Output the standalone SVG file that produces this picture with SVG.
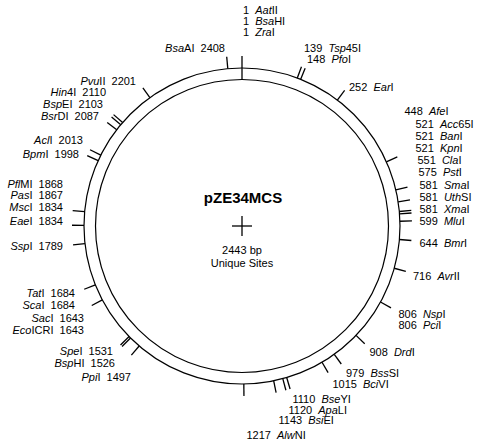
<svg xmlns="http://www.w3.org/2000/svg" width="478" height="444" viewBox="0 0 478 444">
<style>
.t{font-family:"Liberation Sans",Arial,Helvetica,sans-serif;font-size:11px;fill:#000}
.ttl{font-family:"Liberation Sans",Arial,Helvetica,sans-serif;font-size:15px;font-weight:bold;fill:#000;text-anchor:middle}
.i{font-style:italic}
.e{text-anchor:end}
.tk{stroke:#000;stroke-width:1.3;fill:none}
.ring{stroke:#000;stroke-width:1.2;fill:none}
</style>
<rect width="478" height="444" fill="#fff"/>
<g id="map">
<circle class="ring" cx="242" cy="226" r="158"/>
<circle class="ring" cx="242" cy="226" r="146.5"/>
<line class="tk" x1="232" y1="226" x2="252" y2="226"/>
<line class="tk" x1="242" y1="216" x2="242" y2="236"/>
</g>
<g id="connectors">
<line class="tk" x1="242" y1="79.5" x2="242" y2="56"/>
<g transform="translate(242 226)">
<line class="tk" x1="0" y1="-158" x2="0" y2="-170" transform="rotate(20.48)"/>
<line class="tk" x1="0" y1="-158" x2="0" y2="-170" transform="rotate(21.81)"/>
<line class="tk" x1="0" y1="-158" x2="0" y2="-170" transform="rotate(37.13)"/>
<line class="tk" x1="0" y1="-158" x2="0" y2="-170" transform="rotate(66.02)"/>
<line class="tk" x1="0" y1="-158" x2="0" y2="-170" transform="rotate(76.77)"/>
<line class="tk" x1="0" y1="-158" x2="0" y2="-170" transform="rotate(81.19)"/>
<line class="tk" x1="0" y1="-158" x2="0" y2="-170" transform="rotate(84.73)"/>
<line class="tk" x1="0" y1="-158" x2="0" y2="-170" transform="rotate(85.62)"/>
<line class="tk" x1="0" y1="-158" x2="0" y2="-170" transform="rotate(88.27)"/>
<line class="tk" x1="0" y1="-158" x2="0" y2="-170" transform="rotate(94.90)"/>
<line class="tk" x1="0" y1="-158" x2="0" y2="-170" transform="rotate(105.51)"/>
<line class="tk" x1="0" y1="-158" x2="0" y2="-170" transform="rotate(118.77)"/>
<line class="tk" x1="0" y1="-158" x2="0" y2="-170" transform="rotate(133.80)"/>
<line class="tk" x1="0" y1="-158" x2="0" y2="-170" transform="rotate(144.27)"/>
<line class="tk" x1="0" y1="-158" x2="0" y2="-170" transform="rotate(149.57)"/>
<line class="tk" x1="0" y1="-158" x2="0" y2="-170" transform="rotate(163.57)"/>
<line class="tk" x1="0" y1="-158" x2="0" y2="-170" transform="rotate(165.04)"/>
<line class="tk" x1="0" y1="-158" x2="0" y2="-170" transform="rotate(168.43)"/>
<line class="tk" x1="0" y1="-158" x2="0" y2="-170" transform="rotate(179.34)"/>
<line class="tk" x1="0" y1="-158" x2="0" y2="-170" transform="rotate(220.60)"/>
<line class="tk" x1="0" y1="-158" x2="0" y2="-170" transform="rotate(224.87)"/>
<line class="tk" x1="0" y1="-158" x2="0" y2="-170" transform="rotate(225.61)"/>
<line class="tk" x1="0" y1="-158" x2="0" y2="-170" transform="rotate(242.11)"/>
<line class="tk" x1="0" y1="-158" x2="0" y2="-170" transform="rotate(248.15)"/>
<line class="tk" x1="0" y1="-158" x2="0" y2="-170" transform="rotate(263.63)"/>
<line class="tk" x1="0" y1="-158" x2="0" y2="-170" transform="rotate(270.26)"/>
<line class="tk" x1="0" y1="-158" x2="0" y2="-170" transform="rotate(275.19)"/>
<line class="tk" x1="0" y1="-158" x2="0" y2="-170" transform="rotate(294.43)"/>
<line class="tk" x1="0" y1="-158" x2="0" y2="-170" transform="rotate(296.64)"/>
<line class="tk" x1="0" y1="-158" x2="0" y2="-170" transform="rotate(307.54)"/>
<line class="tk" x1="0" y1="-158" x2="0" y2="-170" transform="rotate(309.90)"/>
<line class="tk" x1="0" y1="-158" x2="0" y2="-170" transform="rotate(310.93)"/>
<line class="tk" x1="0" y1="-158" x2="0" y2="-170" transform="rotate(324.34)"/>
<line class="tk" x1="0" y1="-158" x2="0" y2="-170" transform="rotate(354.84)"/>
</g>
</g>
<g id="center-labels">
<text class="ttl" x="243" y="202.5">pZE34MCS</text>
<text class="t" x="242" y="254" text-anchor="middle">2443 bp</text>
<text class="t" x="242" y="267" text-anchor="middle">Unique Sites</text>
</g>
<g id="top-labels">
<text class="t" x="243" y="13.5">1 <tspan class="i" dx="3">Aat</tspan>II</text>
<text class="t" x="243" y="24.5">1 <tspan class="i" dx="3">Bsa</tspan>HI</text>
<text class="t" x="243" y="35.5">1 <tspan class="i" dx="3">Zra</tspan>I</text>
</g>
<g id="right-labels">
<text class="t" x="304" y="52">139 <tspan class="i" dx="3">Tsp</tspan>45I</text>
<text class="t" x="307" y="63">148 <tspan class="i" dx="3">Pfo</tspan>I</text>
<text class="t" x="349" y="91">252 <tspan class="i" dx="3">Ear</tspan>I</text>
<text class="t" x="404.5" y="115">448 <tspan class="i" dx="3">Afe</tspan>I</text>
<text class="t" x="415.5" y="127.5">521 <tspan class="i" dx="3">Acc</tspan>65I</text>
<text class="t" x="415.5" y="139.5">521 <tspan class="i" dx="3">Ban</tspan>I</text>
<text class="t" x="415.5" y="151.5">521 <tspan class="i" dx="3">Kpn</tspan>I</text>
<text class="t" x="417.5" y="163.5">551 <tspan class="i" dx="3">Cla</tspan>I</text>
<text class="t" x="418.5" y="176">575 <tspan class="i" dx="3">Pst</tspan>I</text>
<text class="t" x="419.5" y="188.5">581 <tspan class="i" dx="3">Sma</tspan>I</text>
<text class="t" x="419.5" y="200.5">581 <tspan class="i" dx="3">Uth</tspan>SI</text>
<text class="t" x="419.5" y="212.5">581 <tspan class="i" dx="3">Xma</tspan>I</text>
<text class="t" x="419.5" y="224.5">599 <tspan class="i" dx="3">Mlu</tspan>I</text>
<text class="t" x="419.5" y="247">644 <tspan class="i" dx="3">Bmr</tspan>I</text>
<text class="t" x="413" y="280">716 <tspan class="i" dx="3">Avr</tspan>II</text>
<text class="t" x="398.5" y="318">806 <tspan class="i" dx="3">Nsp</tspan>I</text>
<text class="t" x="398.5" y="329">806 <tspan class="i" dx="3">Pci</tspan>I</text>
<text class="t" x="369.5" y="356">908 <tspan class="i" dx="3">Drd</tspan>I</text>
<text class="t" x="346" y="377">979 <tspan class="i" dx="3">Bss</tspan>SI</text>
<text class="t" x="332.5" y="388">1015 <tspan class="i" dx="3">Bci</tspan>VI</text>
<text class="t" x="292.5" y="403">1110 <tspan class="i" dx="3">Bse</tspan>YI</text>
<text class="t" x="288.5" y="413.5">1120 <tspan class="i" dx="3">Apa</tspan>LI</text>
<text class="t" x="278.5" y="424">1143 <tspan class="i" dx="3">Bsi</tspan>EI</text>
<text class="t" x="246.5" y="438.5">1217 <tspan class="i" dx="3">Alw</tspan>NI</text>
</g>
<g id="left-labels">
<text class="t e" x="225" y="52"><tspan class="i">Bsa</tspan>AI <tspan dx="3">2408</tspan></text>
<text class="t e" x="136" y="84.5"><tspan class="i">Pvu</tspan>II <tspan dx="3">2201</tspan></text>
<text class="t e" x="106" y="96"><tspan class="i">Hin</tspan>4I <tspan dx="3">2110</tspan></text>
<text class="t e" x="103" y="108"><tspan class="i">Bsp</tspan>EI <tspan dx="3">2103</tspan></text>
<text class="t e" x="99" y="120"><tspan class="i">Bsr</tspan>DI <tspan dx="3">2087</tspan></text>
<text class="t e" x="83" y="143.5"><tspan class="i">Acl</tspan>I <tspan dx="3">2013</tspan></text>
<text class="t e" x="79" y="157.5"><tspan class="i">Bpm</tspan>I <tspan dx="3">1998</tspan></text>
<text class="t e" x="63" y="187.5"><tspan class="i">Pfl</tspan>MI <tspan dx="3">1868</tspan></text>
<text class="t e" x="63" y="199"><tspan class="i">Pas</tspan>I <tspan dx="3">1867</tspan></text>
<text class="t e" x="63" y="211"><tspan class="i">Msc</tspan>I <tspan dx="3">1834</tspan></text>
<text class="t e" x="63" y="224.5"><tspan class="i">Eae</tspan>I <tspan dx="3">1834</tspan></text>
<text class="t e" x="63" y="249.5"><tspan class="i">Ssp</tspan>I <tspan dx="3">1789</tspan></text>
<text class="t e" x="75" y="297"><tspan class="i">Tat</tspan>I <tspan dx="3">1684</tspan></text>
<text class="t e" x="75" y="309"><tspan class="i">Sca</tspan>I <tspan dx="3">1684</tspan></text>
<text class="t e" x="84" y="322"><tspan class="i">Sac</tspan>I <tspan dx="3">1643</tspan></text>
<text class="t e" x="84" y="333.5"><tspan class="i">Eco</tspan>ICRI <tspan dx="3">1643</tspan></text>
<text class="t e" x="113" y="354.5"><tspan class="i">Spe</tspan>I <tspan dx="3">1531</tspan></text>
<text class="t e" x="115" y="366.5"><tspan class="i">Bsp</tspan>HI <tspan dx="3">1526</tspan></text>
<text class="t e" x="131" y="381"><tspan class="i">Ppi</tspan>I <tspan dx="3">1497</tspan></text>
</g>
</svg>
